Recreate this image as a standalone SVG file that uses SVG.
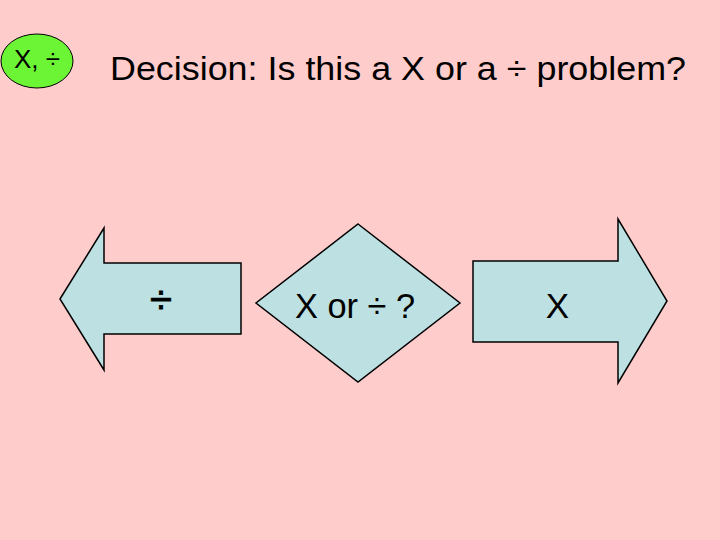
<svg xmlns="http://www.w3.org/2000/svg" width="720" height="540" viewBox="0 0 720 540">
<style>
.shape{fill:#bde0e3;stroke:#000;stroke-width:1.5}
text{font-family:"Liberation Sans",Arial,sans-serif;fill:#000}
</style>
<rect width="720" height="540" fill="#ffcccc"/>
<g id="badge">
<ellipse cx="37" cy="61" rx="36" ry="27" fill="#6cf535" stroke="#000" stroke-width="1"/>
<text x="37" y="68" font-size="26" text-anchor="middle">X, ÷</text>
</g>
<g id="title">
<text x="110" y="80" font-size="34" textLength="576" lengthAdjust="spacingAndGlyphs">Decision: Is this a X or a ÷ problem?</text>
</g>
<g id="div-arrow">
<polygon class="shape" points="60,299 104,228 104,263 241,263 241,334 104,334 104,370"/>
<text x="161" y="313" font-size="40" text-anchor="middle" stroke="#000" stroke-width="0.8">÷</text>
</g>
<g id="decision">
<polygon class="shape" points="358,224 460,303 358,382 256,303"/>
<text x="295" y="318" font-size="35" textLength="120" lengthAdjust="spacingAndGlyphs">X or ÷ ?</text>
</g>
<g id="mul-arrow">
<polygon class="shape" points="473,261 618,261 618,219 667,301 618,383 618,342 473,342"/>
<text x="557.5" y="318" font-size="35" text-anchor="middle">X</text>
</g>
<g id="connectors"></g>
</svg>
